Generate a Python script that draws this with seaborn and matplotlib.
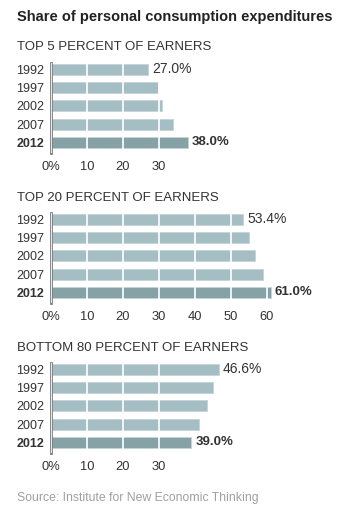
import matplotlib
matplotlib.use("Agg")
import matplotlib.pyplot as plt
import seaborn as sns
import pandas as pd

years = ["1992", "1997", "2002", "2007", "2012"]
top5 = [27.0, 29.8, 30.7, 34.0, 38.0]
top20 = [53.4, 55.1, 56.8, 58.8, 61.0]
bottom80 = [46.6, 44.9, 43.3, 41.2, 39.0]
panel_titles = ["TOP 5 PERCENT OF EARNERS", "TOP 20 PERCENT OF EARNERS", "BOTTOM 80 PERCENT OF EARNERS"]
panel_ticks = [[0, 10, 20, 30], [0, 10, 20, 30, 40, 50, 60], [0, 10, 20, 30]]
title = "Share of personal consumption expenditures"
source = "Source: Institute for New Economic Thinking"

sns.set_theme(style="white")
plt.rcParams["font.family"] = ["Liberation Sans", "DejaVu Sans"]

W, H = 347, 514
fig = plt.figure(figsize=(W / 100, H / 100), dpi=100)

LIGHT = "#a5bec4"
DARK = "#87a2a7"
TXT = "#333333"

fig.text(17 / W, 1 - 17 / H, title, fontsize=10.5, fontweight="bold", color="#222222",
         ha="left", va="center")

# axes pixel layout: (top, bottom) of each axes, plus title y
layouts = [(63, 153, 47), (213.3, 303, 197.7), (363, 453, 347.7)]
left_px, width_px = 51, 288

for vals, ptitle, ticks, (top, bot, ty) in zip([top5, top20, bottom80], panel_titles,
                                                panel_ticks, layouts):
    ax = fig.add_axes([left_px / W, 1 - bot / H, width_px / W, (bot - top) / H])
    df = pd.DataFrame({"year": years, "value": vals})
    df["hl"] = ["old"] * 4 + ["new"]
    sns.barplot(data=df, x="value", y="year", hue="hl", palette={"old": LIGHT, "new": DARK},
                orient="h", width=0.6, ax=ax, legend=False, edgecolor="#c4d4d8", linewidth=0.6,
                saturation=1)
    ax.set_xlim(0, 80)
    ax.set_ylim(4.58, -0.33)
    ax.set_xlabel("")
    ax.set_ylabel("")
    for s in ["top", "right", "bottom"]:
        ax.spines[s].set_visible(False)
    ax.spines["left"].set_color("#7f7f7f")
    ax.spines["left"].set_linewidth(2)
    ax.set_axisbelow(False)
    ax.grid(axis="x", color="white", linewidth=1.2)
    ax.grid(axis="y", visible=False)
    ax.set_xticks(ticks)
    ax.set_xticklabels(["0%"] + [str(t) for t in ticks[1:]])
    ax.tick_params(axis="x", direction="in", length=5, width=1, color="#cccccc",
                   labelsize=9.3, labelcolor=TXT, pad=6)
    ax.tick_params(axis="y", length=0, labelsize=9, labelcolor=TXT, pad=5)
    for lab in ax.get_yticklabels():
        if lab.get_text() == "2012":
            lab.set_fontweight("bold")
    # value labels for first and last bars
    ax.text(vals[0] + 1.1, 0, f"{vals[0]:.1f}%", fontsize=10, color=TXT, va="center", ha="left")
    ax.text(vals[-1] + 1.1, 4, f"{vals[-1]:.1f}%", fontsize=9.5, color=TXT, fontweight="bold",
            va="center", ha="left")
    fig.text(17 / W, 1 - ty / H, ptitle, fontsize=9.5, color=TXT, ha="left", va="center")

fig.text(17 / W, 1 - 498 / H, source, fontsize=8.8, color="#a0a0a0", ha="left", va="center")

fig.savefig("out.png", dpi=100)
